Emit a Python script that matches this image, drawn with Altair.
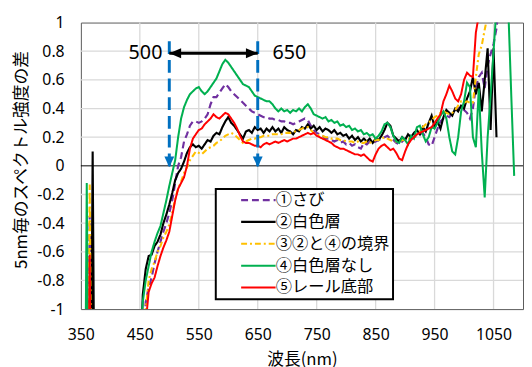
import altair as alt
import pandas as pd

SERIES = ["①さび", "②白色層", "③②と④の境界", "④白色層なし", "⑤レール底部"]
COLORS = ["#7030A0", "#000000", "#FFC000", "#00B050", "#FF0000"]
DASHES = [[7, 4], [1, 0], [6, 3, 2, 3], [1, 0], [1, 0]]
WIDTHS = [2.2, 2.0, 2.0, 2.0, 1.3]

# wavelength grid (nm): short-wave spikes, then 450..1090 every 5 nm
NM = [355, 360, 365, 370, 375] + list(range(450, 1095, 5))

sabi = [-3, -3, -0.35, -3, -3,
        -2.0, -1.3, -0.95, -0.85, -0.78, -0.68, -0.60, -0.53, -0.46, -0.40,
        -0.33, -0.24, -0.12, 0.00, 0.06, 0.17, 0.22, 0.28, 0.31, 0.31,
        0.30, 0.31, 0.33, 0.36, 0.43, 0.48, 0.48, 0.51, 0.54, 0.57,
        0.55, 0.52, 0.50, 0.48, 0.46, 0.44, 0.42, 0.40, 0.38, 0.37,
        0.36, 0.35, 0.34, 0.34, 0.33, 0.33, 0.32, 0.32, 0.31, 0.31,
        0.30, 0.30, 0.29, 0.30, 0.31, 0.32, 0.33, 0.32, 0.28, 0.25,
        0.23, 0.22, 0.21, 0.19, 0.19, 0.18, 0.17, 0.18, 0.16, 0.17,
        0.15, 0.16, 0.14, 0.15, 0.13, 0.12, 0.16, 0.15, 0.17, 0.16,
        0.17, 0.18, 0.19, 0.20, 0.21, 0.19, 0.18, 0.16, 0.15, 0.17,
        0.19, 0.18, 0.19, 0.20, 0.21, 0.22, 0.23, 0.20, 0.15, 0.14,
        0.20, 0.26, 0.31, 0.33, 0.35, 0.34, 0.37, 0.39, 0.40, 0.41,
        0.39, 0.37, 0.33, 0.40, 0.55, 0.62, 0.65, 0.54, 0.70, 0.78,
        0.85, 0.96, 1.15, 1.3]

hakushoku = [-3, -3, -3, 0.10, -3,
             -1.5, -0.90, -0.72, -0.63, -0.62, -0.56, -0.53, -0.48, -0.40, -0.34,
             -0.27, -0.19, -0.10, -0.05, -0.02, 0.03, 0.09, 0.13, 0.15, 0.13,
             0.14, 0.12, 0.15, 0.18, 0.17, 0.21, 0.23, 0.22, 0.27, 0.31,
             0.34, 0.30, 0.28, 0.25, 0.22, 0.19, 0.24, 0.25, 0.23, 0.27,
             0.25, 0.26, 0.23, 0.26, 0.24, 0.27, 0.24, 0.26, 0.23, 0.27,
             0.25, 0.24, 0.22, 0.25, 0.24, 0.27, 0.26, 0.29, 0.26, 0.28,
             0.25, 0.27, 0.24, 0.26, 0.25, 0.23, 0.25, 0.22, 0.23, 0.21,
             0.22, 0.19, 0.21, 0.18, 0.20, 0.17, 0.19, 0.17, 0.19, 0.16,
             0.19, 0.18, 0.21, 0.25, 0.30, 0.28, 0.21, 0.19, 0.17, 0.20,
             0.18, 0.22, 0.20, 0.23, 0.25, 0.22, 0.27, 0.24, 0.30, 0.35,
             0.27, 0.31, 0.26, 0.34, 0.39, 0.37, 0.35, 0.40, 0.38, 0.42,
             0.40, 0.47, 0.52, 0.62, 0.50, 0.58, 0.38, 0.60, 0.82, 0.25,
             0.82, 0.20]

kyokai = [-3, -3, -0.13, -3, -3,
          -2.0, -1.4, -1.0, -0.80, -0.72, -0.67, -0.60, -0.56, -0.50, -0.46,
          -0.41, -0.33, -0.23, -0.16, -0.11, -0.05, -0.01, 0.04, 0.07, 0.10,
          0.09, 0.08, 0.10, 0.12, 0.13, 0.14, 0.16, 0.17, 0.19, 0.21,
          0.22, 0.23, 0.22, 0.20, 0.18, 0.16, 0.17, 0.18, 0.19, 0.19,
          0.20, 0.20, 0.21, 0.21, 0.21, 0.22, 0.22, 0.22, 0.22, 0.23,
          0.23, 0.23, 0.24, 0.24, 0.25, 0.26, 0.27, 0.27, 0.25, 0.23,
          0.22, 0.21, 0.21, 0.20, 0.20, 0.19, 0.19, 0.19, 0.18, 0.18,
          0.17, 0.17, 0.17, 0.16, 0.17, 0.16, 0.16, 0.17, 0.16, 0.17,
          0.18, 0.18, 0.19, 0.20, 0.19, 0.18, 0.17, 0.17, 0.17, 0.18,
          0.18, 0.19, 0.19, 0.20, 0.22, 0.24, 0.27, 0.29, 0.30, 0.32,
          0.34, 0.35, 0.37, 0.38, 0.37, 0.36, 0.37, 0.39, 0.42, 0.45,
          0.44, 0.45, 0.44, 0.44, 0.62, 0.78, 0.84, 0.95, 1.05, 1.15]

nashi = [-3, -0.12, -3, -3, -3,
         -1.3, -0.95, -0.80, -0.70, -0.60, -0.53, -0.47, -0.42, -0.33, -0.24,
         -0.14, -0.05, 0.04, 0.20, 0.33, 0.41, 0.46, 0.50, 0.52, 0.54,
         0.55, 0.52, 0.50, 0.52, 0.55, 0.58, 0.61, 0.66, 0.71, 0.74,
         0.72, 0.69, 0.66, 0.63, 0.60, 0.57, 0.56, 0.55, 0.52, 0.49,
         0.48, 0.47, 0.46, 0.45, 0.45, 0.43, 0.40, 0.38, 0.40, 0.38,
         0.39, 0.37, 0.39, 0.38, 0.40, 0.38, 0.41, 0.43, 0.40, 0.36,
         0.35, 0.34, 0.33, 0.34, 0.31, 0.32, 0.30, 0.31, 0.28, 0.29,
         0.27, 0.28, 0.25, 0.26, 0.24, 0.25, 0.22, 0.23, 0.21, 0.22,
         0.19, 0.21, 0.24, 0.29, 0.30, 0.27, 0.21, 0.17, 0.16, 0.20,
         0.18, 0.15, 0.21, 0.19, 0.27, 0.28, 0.22, 0.17, 0.20, 0.27,
         0.26, 0.30, 0.35, 0.38, 0.33, 0.20, 0.10, 0.08, 0.20, 0.38,
         0.45, 0.58, 0.55, 0.20, 0.13, 0.54, 0.10, -0.22, 0.20, 0.49,
         0.80, 1.1, 1.3, 1.4, 1.3, 1.1, 0.50, -0.07]

rail = [-3, -3, -0.62, -3, -3,
        -2.0, -1.5, -1.1, -0.88, -0.82, -0.78, -0.70, -0.63, -0.57, -0.52,
        -0.46, -0.35, -0.24, -0.16, -0.12, -0.08, 0.00, 0.12, 0.19, 0.22,
        0.25, 0.26, 0.29, 0.31, 0.33, 0.36, 0.34, 0.33, 0.35, 0.37,
        0.36, 0.33, 0.30, 0.26, 0.21, 0.17, 0.16, 0.16, 0.15, 0.14,
        0.14, 0.13, 0.15, 0.16, 0.15, 0.16, 0.17, 0.16, 0.17, 0.18,
        0.17, 0.18, 0.19, 0.19, 0.20, 0.21, 0.22, 0.23, 0.22, 0.23,
        0.21, 0.20, 0.19, 0.18, 0.17, 0.16, 0.14, 0.13, 0.12, 0.12,
        0.11, 0.10, 0.09, 0.08, 0.08, 0.07, 0.08, 0.06, 0.04, 0.03,
        0.08, 0.12, 0.14, 0.15, 0.13, 0.11, 0.12, 0.09, 0.05, 0.04,
        0.10, 0.15, 0.18, 0.20, 0.22, 0.23, 0.24, 0.25, 0.26, 0.27,
        0.30, 0.33, 0.36, 0.45, 0.50, 0.56, 0.52, 0.47, 0.45, 0.50,
        0.60, 0.65, 0.63, 0.62, 0.93, 1.05, 1.2]

X_TICKS = [350, 450, 550, 650, 750, 850, 950, 1050]
Y_TICKS = [-1, -0.8, -0.6, -0.4, -0.2, 0, 0.2, 0.4, 0.6, 0.8, 1]
GRID_X = [450, 550, 650, 750, 850, 950, 1050]
GRID_Y = [-0.8, -0.6, -0.4, -0.2, 0.2, 0.4, 0.6, 0.8]
ZERO = [0]

ARROW_NM = [500, 650]
ARROW_LABEL = ["500", "650"]
ARROW_TOP = 0.87
ARROW_TIP = -0.01
SPAN_Y = 0.786

rows = []
for name, vals in zip(SERIES, [sabi, hakushoku, kyokai, nashi, rail]):
    for w, v in zip(NM, vals):
        rows.append({"nm": w, "v": v, "s": name})
df = pd.DataFrame(rows)

xs = alt.Scale(domain=[350, 1100], nice=False, zero=False)
ys = alt.Scale(domain=[-1, 1], nice=False, zero=False)

x_axis = alt.Axis(values=X_TICKS, grid=False, ticks=False, domain=False,
                  labelFlush=False, labelOverlap=False,
                  labelExpr="toString(datum.value)",
                  labelFont="Noto Sans", labelFontSize=16, labelColor="#000000",
                  labelPadding=18, title="波長(nm)", titleFont="Noto Sans CJK JP",
                  titleFontSize=17, titleFontWeight="normal", titleColor="#000000",
                  titlePadding=9)
y_axis = alt.Axis(values=Y_TICKS, grid=False, ticks=False, domain=False,
                  labelFlush=False, labelOverlap=False,
                  labelExpr="toString(datum.value)",
                  labelFont="Noto Sans", labelFontSize=16, labelColor="#000000",
                  labelPadding=17, title="5nm毎のスペクトル強度の差",
                  titleFont="Noto Sans CJK JP", titleFontSize=17,
                  titleFontWeight="normal", titleColor="#000000", titlePadding=6,
                  titleY=139)


def X(field):
    return alt.X(field, scale=xs, axis=x_axis)


def Y(field):
    return alt.Y(field, scale=ys, axis=y_axis)


grid_x = alt.Chart(pd.DataFrame({"g": GRID_X})).mark_rule(
    color="#d9d9d9", strokeWidth=1.3).encode(x=X("g:Q"))
grid_y = alt.Chart(pd.DataFrame({"g": GRID_Y})).mark_rule(
    color="#d9d9d9", strokeWidth=1.3).encode(y=Y("g:Q"))
zero = alt.Chart(pd.DataFrame({"z": ZERO})).mark_rule(
    color="#000000", strokeWidth=1).encode(y=Y("z:Q"))

leg = alt.Legend(title=None, orient="none", legendX=137, legendY=169,
                 symbolType="M-3,0H3", symbolSize=136, symbolStrokeWidth=2,
                 symbolOffset=32, labelOffset=9.5,
                 labelFont="Noto Sans CJK JP", labelFontSize=16.5, labelColor="#000000",
                 labelLimit=400, padding=3, rowPadding=5.2,
                 strokeColor="#000000", fillColor="#ffffff")

lines = alt.Chart(df).mark_line(clip=True).encode(
    x=X("nm:Q"),
    y=Y("v:Q"),
    color=alt.Color("s:N", scale=alt.Scale(domain=SERIES, range=COLORS), legend=leg),
    strokeDash=alt.StrokeDash("s:N", scale=alt.Scale(domain=SERIES, range=DASHES), legend=leg),
    strokeWidth=alt.StrokeWidth("s:N", scale=alt.Scale(domain=SERIES, range=WIDTHS), legend=None),
)

adf = pd.DataFrame({"nm": ARROW_NM, "lab": ARROW_LABEL,
                    "top": [ARROW_TOP] * 2, "tip": [ARROW_TIP] * 2,
                    "span": [SPAN_Y] * 2})
sdf = pd.DataFrame({"a": [ARROW_NM[0]], "b": [ARROW_NM[1]], "y": [SPAN_Y]})

vrules = alt.Chart(adf).mark_rule(color="#0070C0", strokeWidth=3, strokeDash=[13, 6]).encode(
    x=X("nm:Q"), y=Y("top:Q"), y2="tip:Q")
vheads = alt.Chart(adf).mark_point(shape="M0,0L-1,-2.2L1,-2.2Z", size=100, filled=True,
                                   color="#0070C0", opacity=1).encode(
    x=X("nm:Q"), y=Y("tip:Q"))
span = alt.Chart(sdf).mark_rule(color="#000000", strokeWidth=3).encode(
    x=X("a:Q"), x2="b:Q", y=Y("y:Q"))
lhead = alt.Chart(sdf).mark_point(shape="M0,0L2.4,-1L2.4,1Z", size=100, filled=True,
                                  color="#000000", opacity=1).encode(
    x=X("a:Q"), y=Y("y:Q"))
rhead = alt.Chart(sdf).mark_point(shape="M0,0L-2.4,-1L-2.4,1Z", size=100, filled=True,
                                  color="#000000", opacity=1).encode(
    x=X("b:Q"), y=Y("y:Q"))
ltext = alt.Chart(adf.iloc[[0]]).mark_text(align="right", baseline="middle", dx=-7,
                                           font="Noto Sans", fontSize=20, color="#000000").encode(
    x=X("nm:Q"), y=Y("span:Q"), text="lab:N")
rtext = alt.Chart(adf.iloc[[1]]).mark_text(align="left", baseline="middle", dx=15,
                                           font="Noto Sans", fontSize=20, color="#000000").encode(
    x=X("nm:Q"), y=Y("span:Q"), text="lab:N")

chart = alt.layer(grid_x, grid_y, zero, lines, vrules, vheads, span, lhead, rhead,
                  ltext, rtext).properties(
    width=449, height=291,
    padding={"left": 74, "top": 12, "right": 1, "bottom": 56},
    autosize=alt.AutoSizeParams(type="none"),
).configure_view(stroke="#595959", strokeWidth=1).configure_legend(strokeWidth=2)

chart.save("out.html", embed_options={"renderer": "svg", "actions": False})
